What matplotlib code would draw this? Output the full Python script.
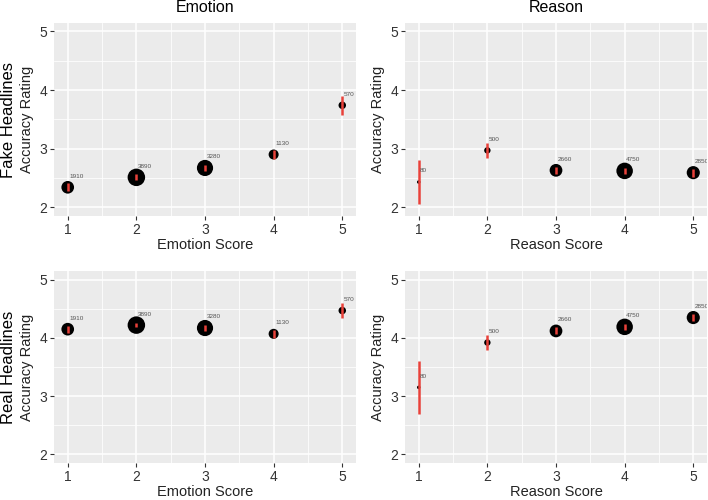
import matplotlib
matplotlib.use('Agg')
import matplotlib.pyplot as plt
import numpy as np

plt.rcParams['font.family'] = ['Liberation Sans', 'DejaVu Sans']

# Data
scores = [1, 2, 3, 4, 5]
emotion_n = [1910, 3890, 3280, 1130, 570]
reason_n = [80, 500, 2660, 4750, 2850]

fake_emotion_mean = [2.34, 2.51, 2.67, 2.90, 3.74]
fake_emotion_ci = [0.07, 0.05, 0.05, 0.08, 0.16]
fake_reason_mean = [2.43, 2.97, 2.63, 2.62, 2.59]
fake_reason_ci = [0.38, 0.13, 0.06, 0.05, 0.07]

real_emotion_mean = [4.15, 4.22, 4.17, 4.07, 4.47]
real_emotion_ci = [0.06, 0.04, 0.05, 0.07, 0.13]
real_reason_mean = [3.15, 3.92, 4.12, 4.19, 4.35]
real_reason_ci = [0.45, 0.13, 0.06, 0.05, 0.06]

col_titles = ['Emotion', 'Reason']
row_titles = ['Fake Headlines', 'Real Headlines']
x_labels = ['Emotion Score', 'Reason Score']

W, H = 708, 500
fig = plt.figure(figsize=(W / 100, H / 100), dpi=100)


def px_axes(x0, y0, x1, y1):
    return fig.add_axes([x0 / W, 1 - y1 / H, (x1 - x0) / W, (y1 - y0) / H])


def size_scale(n, dmin, dmax):
    # area-style scale: diameter linear in sqrt(n), per column
    r = np.sqrt(np.asarray(n, dtype=float))
    d = dmin + (r - r.min()) / (r.max() - r.min()) * (dmax - dmin)
    return (d * 72 / 100) ** 2


def panel(ax, mean, ci, n, xlabel, sizes):
    ax.set_facecolor('#EBEBEB')
    for s in ax.spines.values():
        s.set_visible(False)
    ax.set_xlim(0.8, 5.2)
    ax.set_ylim(1.85, 5.15)
    ax.set_xticks(scores)
    ax.set_yticks([2, 3, 4, 5])
    ax.set_xticks([1.5, 2.5, 3.5, 4.5], minor=True)
    ax.set_yticks([2.5, 3.5, 4.5], minor=True)
    ax.grid(which='major', color='white', lw=1.1)
    ax.grid(which='minor', color='white', lw=0.55)
    ax.set_axisbelow(True)
    ax.tick_params(which='major', length=3, width=0.8, color='#333333',
                   labelsize=10, labelcolor='#333333', pad=2)
    ax.tick_params(which='minor', length=0)
    ax.scatter(scores, mean, s=sizes, color='black', zorder=3, lw=0)
    ax.vlines(scores, np.array(mean) - np.array(ci), np.array(mean) + np.array(ci),
              color='#E8413A', lw=1.8, zorder=4)
    for x, y, k in zip(scores, mean, n):
        ax.text(x + 0.02, y + 0.19, str(k), fontsize=4.6, color='#555555',
                ha='left', va='center', clip_on=True, zorder=5)
    ax.set_xlabel(xlabel, fontsize=10.5, color='#222222', labelpad=1)
    ax.set_ylabel('Accuracy Rating', fontsize=10.5, color='#222222', labelpad=4)


emo_sizes = size_scale(emotion_n, 7.5, 17.5)
rea_sizes = size_scale(reason_n, 3.5, 16.5)

ax_tl = px_axes(54, 22.7, 356, 216)
ax_tr = px_axes(405, 22.7, 707, 216)
ax_bl = px_axes(54, 271, 356, 463)
ax_br = px_axes(405, 271, 707, 463)

panel(ax_tl, fake_emotion_mean, fake_emotion_ci, emotion_n, x_labels[0], emo_sizes)
panel(ax_tr, fake_reason_mean, fake_reason_ci, reason_n, x_labels[1], rea_sizes)
panel(ax_bl, real_emotion_mean, real_emotion_ci, emotion_n, x_labels[0], emo_sizes)
panel(ax_br, real_reason_mean, real_reason_ci, reason_n, x_labels[1], rea_sizes)

fig.text(205 / W, 1 - 8 / H, col_titles[0], fontsize=11.5, ha='center', va='center')
fig.text(556 / W, 1 - 8 / H, col_titles[1], fontsize=11.5, ha='center', va='center')
fig.text(9 / W, 1 - 120 / H, row_titles[0], fontsize=12, rotation=90,
         ha='center', va='center')
fig.text(9 / W, 1 - 367 / H, row_titles[1], fontsize=12, rotation=90,
         ha='center', va='center')

fig.savefig('out.png', dpi=100)
